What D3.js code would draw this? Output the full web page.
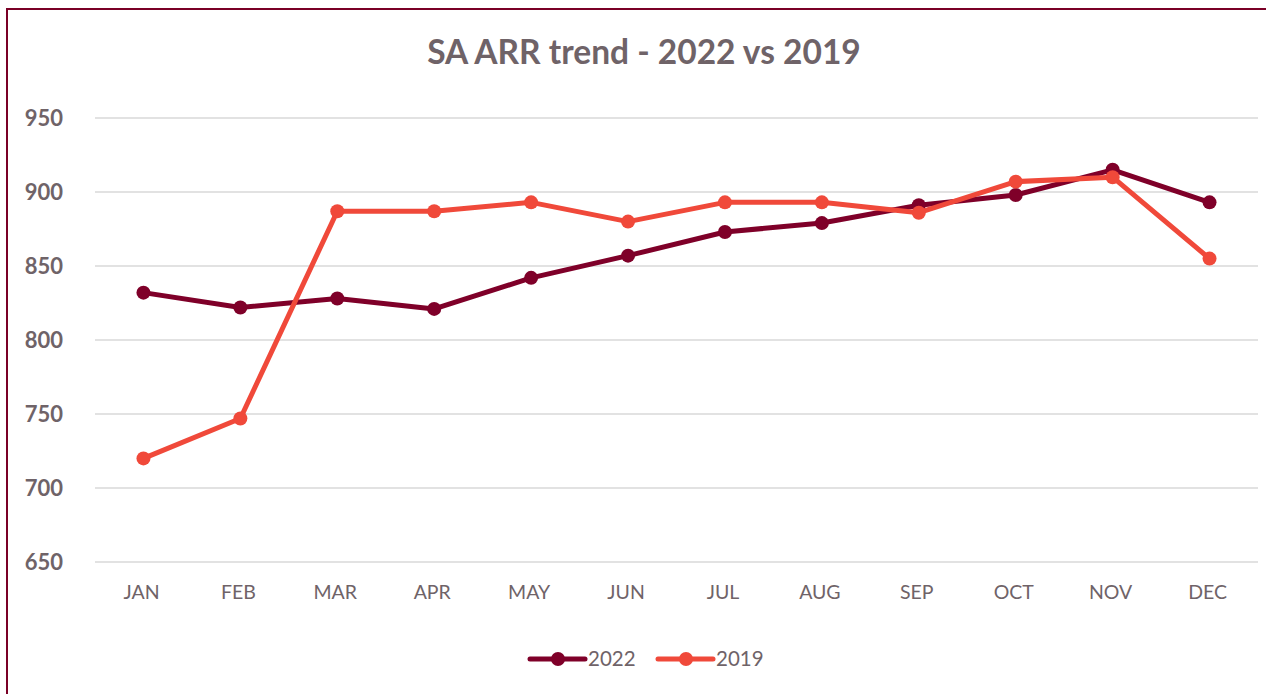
<!DOCTYPE html>
<html>
<head>
<meta charset="utf-8">
<script src="https://cdn.jsdelivr.net/npm/d3@7"></script>
<style>
  body { margin: 0; background: #fff; }
  text { font-family: Lato, "Open Sans", sans-serif; fill: #6f6368; }
</style>
</head>
<body>
<div id="chart"></div>
<script>
// Chart data
var months = ["JAN", "FEB", "MAR", "APR", "MAY", "JUN", "JUL", "AUG", "SEP", "OCT", "NOV", "DEC"];
var values2022 = [832, 822, 828, 821, 842, 857, 873, 879, 891, 898, 915, 893];
var values2019 = [720, 747, 887, 887, 893, 880, 893, 893, 886, 907, 910, 855];
var yTicks = [650, 700, 750, 800, 850, 900, 950];

var width = 1266, height = 694;
var svg = d3.select("#chart").append("svg")
    .attr("width", width)
    .attr("height", height);

// Outer frame (only left and top visible in the picture)
svg.append("rect")
    .attr("x", 7).attr("y", 9)
    .attr("width", width + 20).attr("height", height + 20)
    .attr("fill", "none")
    .attr("stroke", "#7a0026")
    .attr("stroke-width", 2);

var series = [
    {name: "2022", values: values2022, color: "#7f0029"},
    {name: "2019", values: values2019, color: "#f0493a"}
];

// Scales
var xScale = d3.scaleBand().domain(months).range([95, 1258]);
var yScale = d3.scaleLinear().domain([650, 950]).range([562, 118]);

// Gridlines
svg.append("g").selectAll("line")
    .data(yTicks)
    .enter().append("line")
    .attr("x1", 95).attr("x2", 1258)
    .attr("y1", function(d) { return yScale(d); })
    .attr("y2", function(d) { return yScale(d); })
    .attr("stroke", "#d9d9d9")
    .attr("stroke-width", 1.5);

// Y axis labels
svg.append("g").selectAll("text")
    .data(yTicks)
    .enter().append("text")
    .attr("x", 63)
    .attr("y", function(d) { return yScale(d) + 7.5; })
    .attr("text-anchor", "end")
    .attr("font-size", 22)
    .attr("font-weight", "bold")
    .text(function(d) { return d; });

// X axis labels
svg.append("g").selectAll("text")
    .data(months)
    .enter().append("text")
    .attr("x", function(d) { return xScale(d) + xScale.bandwidth() / 2 - 2; })
    .attr("y", 599)
    .attr("text-anchor", "middle")
    .attr("font-size", 19.5)
    .text(function(d) { return d; });

// Title
svg.append("text")
    .attr("x", 644).attr("y", 64)
    .attr("text-anchor", "middle")
    .attr("font-size", 33.5)
    .attr("font-weight", "bold")
    .text("SA ARR trend - 2022 vs 2019");

var line = d3.line()
    .x(function(d, i) { return xScale(months[i]) + xScale.bandwidth() / 2; })
    .y(function(d) { return yScale(d); });

// Draw series
series.forEach(function(s) {
    var g = svg.append("g");
    g.append("path")
        .datum(s.values)
        .attr("d", line)
        .attr("fill", "none")
        .attr("stroke", s.color)
        .attr("stroke-width", 5)
        .attr("stroke-linejoin", "round");
    g.selectAll("circle")
        .data(s.values)
        .enter().append("circle")
        .attr("cx", function(d, i) { return xScale(months[i]) + xScale.bandwidth() / 2; })
        .attr("cy", function(d) { return yScale(d); })
        .attr("r", 7)
        .attr("fill", s.color);
});

// Legend
var legend = svg.append("g");
var legendX = [530, 658];
series.forEach(function(s, i) {
    var lg = legend.append("g").attr("transform", "translate(" + legendX[i] + ",659)");
    lg.append("line")
        .attr("x1", 0).attr("x2", 55)
        .attr("stroke", s.color)
        .attr("stroke-width", 5)
        .attr("stroke-linecap", "round");
    lg.append("circle").attr("cx", 28).attr("r", 7).attr("fill", s.color);
    lg.append("text")
        .attr("x", 58).attr("y", 7)
        .attr("font-size", 20.5)
        .text(s.name);
});
</script>
</body>
</html>
